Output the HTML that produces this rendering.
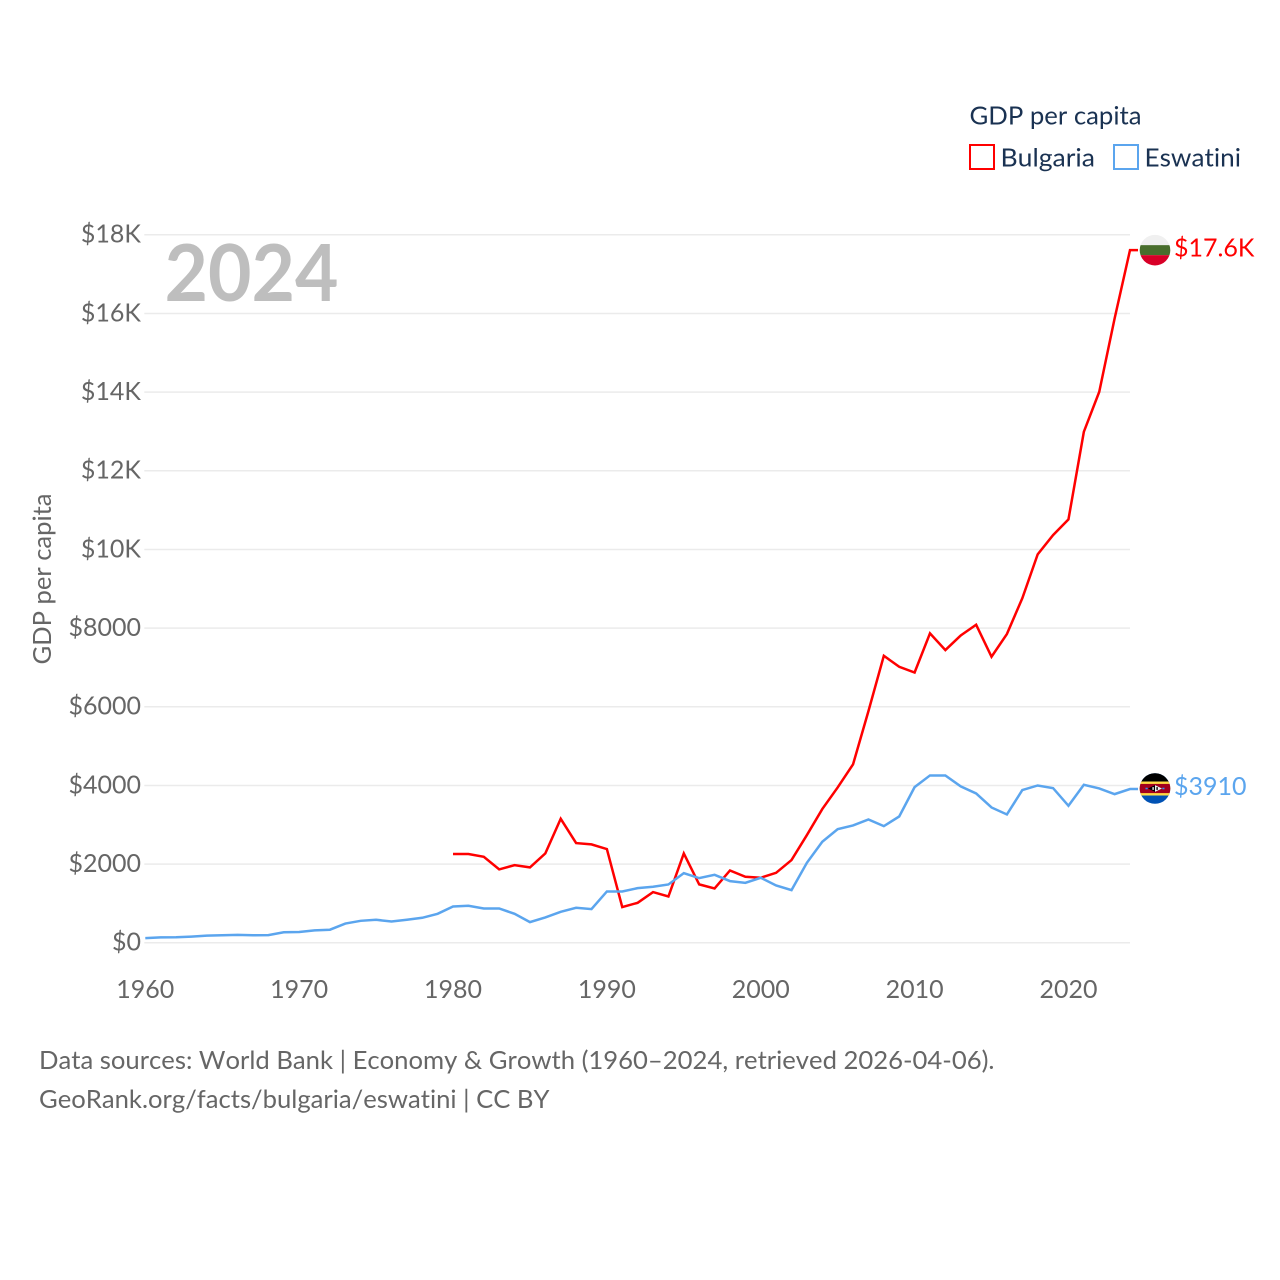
<!DOCTYPE html>
<html>
<head>
<meta charset="utf-8">
<title>GDP per capita: Bulgaria and Eswatini</title>
<style>
html,body{margin:0;padding:0;background:#fff;width:1280px;height:1280px;overflow:hidden}
svg{display:block;font-family:"Lato","Carlito","Liberation Sans",sans-serif;font-variant-ligatures:none;font-feature-settings:"liga" 0;font-kerning:none}
</style>
</head>
<body>
<svg id="chart" xmlns="http://www.w3.org/2000/svg" width="1280" height="1280" viewBox="0 0 1280 1280">
  <rect width="1280" height="1280" fill="#fff"/>
  <g id="grid"></g>
  <g id="yticks"></g>
  <g id="xticks"></g>
  <text x="164.5" y="301" font-size="79" font-weight="700" fill="#bebebe" textLength="174" lengthAdjust="spacingAndGlyphs">2024</text>
  <text transform="translate(51,664.5) rotate(-90)" font-size="25" fill="#666" textLength="171" lengthAdjust="spacingAndGlyphs">GDP per capita</text>
  <g id="series"></g>

  <g>
    <text x="969.5" y="124.5" font-size="25" fill="#1a3252" textLength="172" lengthAdjust="spacingAndGlyphs">GDP per capita</text>
    <rect x="970" y="145" width="24" height="24" fill="#fff" stroke="#ff0000" stroke-width="2"/>
    <text x="1000.5" y="166.5" font-size="25" fill="#1a3252" textLength="94.5" lengthAdjust="spacingAndGlyphs">Bulgaria</text>
    <rect x="1114" y="145" width="24" height="24" fill="#fff" stroke="#5ba5ee" stroke-width="2"/>
    <text x="1144.5" y="166.5" font-size="25" fill="#1a3252" textLength="96.5" lengthAdjust="spacingAndGlyphs">Eswatini</text>
  </g>

  <defs>
    <clipPath id="clip-bg"><circle cx="0" cy="0" r="15.3"/></clipPath>
    <clipPath id="clip-sz"><circle cx="0" cy="0" r="15.3"/></clipPath>
  </defs>
  <g id="flag-bulgaria">
    <g clip-path="url(#clip-bg)">
      <rect x="-16" y="-16" width="32" height="11" fill="#f0f0f0"/>
      <rect x="-16" y="-5" width="32" height="10" fill="#496e2d"/>
      <rect x="-16" y="5" width="32" height="11" fill="#d80027"/>
    </g>
  </g>
  <g id="flag-eswatini">
    <g clip-path="url(#clip-sz)">
      <rect x="-16" y="-16" width="32" height="32" fill="#0052b4"/>
      <rect x="-16" y="-16" width="32" height="9.5" fill="#000"/>
      <rect x="-16" y="-7" width="32" height="14" fill="#ffda44"/>
      <rect x="-16" y="-4.6" width="32" height="9.2" fill="#a2001d"/>
      <path d="M-7,0 L0,-3.4 L7,0 L0,3.4 Z" fill="#000"/>
      <path d="M0,-3.4 L7,0 L0,3.4 Z" fill="#f0f0f0"/>
      <rect x="-2.6" y="-1.4" width="1.4" height="2.8" fill="#f0f0f0"/>
      <rect x="1.4" y="-1.4" width="1.4" height="2.8" fill="#000"/>
      <rect x="-9.5" y="-0.8" width="2.2" height="1.6" fill="#338af3"/>
      <rect x="7.3" y="-0.8" width="2.2" height="1.6" fill="#338af3"/>
    </g>
  </g>
  <g id="end-labels"></g>

  <g fill="#666">
    <text x="39" y="1069" font-size="25" textLength="955.5" lengthAdjust="spacingAndGlyphs">Data sources: World Bank | Economy &amp; Growth (1960–2024, retrieved 2026-04-06).</text>
    <text x="39" y="1108" font-size="25" textLength="510.5" lengthAdjust="spacingAndGlyphs">GeoRank.org/facts/bulgaria/eswatini | CC BY</text>
  </g>
</svg>

<script>
const firstYear = 1960;
const lastYear = 2024;
const bulgariaStartYear = 1980;
const eswatiniStartYear = 1960;

const xTickYears = [1960, 1970, 1980, 1990, 2000, 2010, 2020];
const yTickValues = [0, 2000, 4000, 6000, 8000, 10000, 12000, 14000, 16000, 18000];
const yTickLabels = ["$0", "$2000", "$4000", "$6000", "$8000", "$10K", "$12K", "$14K", "$16K", "$18K"];

const bulgariaValues = [
  2256, 2256, 2187, 1866, 1975, 1917, 2273, 3153, 2535, 2502,
  2383, 908, 1017, 1289, 1177, 2271, 1485, 1381, 1839, 1678,
  1653, 1780, 2103, 2739, 3400, 3950, 4537, 5890, 7297, 7017,
  6872, 7867, 7442, 7815, 8086, 7273, 7850, 8760, 9875, 10366,
  10765, 12990, 14007, 15872, 17610
];
const eswatiniValues = [
  118, 137, 140, 158, 183, 192, 200, 192, 195, 267,
  275, 317, 333, 490, 559, 585, 542, 585, 636, 737,
  923, 941, 873, 873, 737, 526, 644, 788, 890, 856,
  1305, 1305, 1390, 1424, 1483, 1771, 1644, 1729, 1569, 1525,
  1653, 1457, 1339, 2034, 2568, 2890, 2983, 3136, 2966, 3212,
  3958, 4255, 4255, 3975, 3797, 3441, 3263, 3882, 4000, 3933,
  3483, 4017, 3924, 3780, 3910
];

const NS = "http://www.w3.org/2000/svg";
const plotLeft = 145.3, plotRight = 1130, plotBottom = 942.8, plotTop = 234.8, yMax = 18000;
const labelSize = 25;

function xScale(year) {
  return plotLeft + (year - firstYear) / (lastYear - firstYear) * (plotRight - plotLeft);
}
function yScale(value) {
  return plotBottom - value / yMax * (plotBottom - plotTop);
}
function formatValue(v) {
  return v >= 10000 ? "$" + (v / 1000).toFixed(1) + "K" : "$" + Math.round(v);
}
function make(tag, attrs, parent) {
  const el = document.createElementNS(NS, tag);
  for (const k in attrs) el.setAttribute(k, attrs[k]);
  parent.appendChild(el);
  return el;
}

const gridG = document.getElementById("grid");
const yG = document.getElementById("yticks");
const xG = document.getElementById("xticks");
const seriesG = document.getElementById("series");
const endG = document.getElementById("end-labels");

yTickValues.forEach(function (v, i) {
  const line = make("line", { x1: plotLeft - 1, x2: plotRight, y1: yScale(v), y2: yScale(v), stroke: "#ebebeb", "stroke-width": 1.5 }, gridG);
  
  
  const t = make("text", { x: 141, y: yScale(v) + 7.8, "text-anchor": "end", "font-size": labelSize, fill: "#666" }, yG);
  
  
  t.textContent = yTickLabels[i];
});

xTickYears.forEach(function (yr) {
  const t = make("text", { x: xScale(yr), y: 998, "text-anchor": "middle", "font-size": labelSize, fill: "#666" }, xG);
  
  
  t.textContent = String(yr);
});

function linePoints(values, startYear) {
  const pts = values.map(function (v, i) {
    return xScale(startYear + i).toFixed(2) + "," + yScale(v).toFixed(2);
  });
  const lastV = values[values.length - 1];
  pts.push((xScale(startYear + values.length - 1) + 8).toFixed(2) + "," + yScale(lastV).toFixed(2));
  return pts.join(" ");
}

const lineBulgaria = make("polyline", { points: linePoints(bulgariaValues, bulgariaStartYear), fill: "none", stroke: "#ff0000", "stroke-width": 2.5, "stroke-linejoin": "miter" }, seriesG);



const lineEswatini = make("polyline", { points: linePoints(eswatiniValues, eswatiniStartYear), fill: "none", stroke: "#5ba5ee", "stroke-width": 2.5, "stroke-linejoin": "miter" }, seriesG);



const bgLast = bulgariaValues[bulgariaValues.length - 1];
const szLast = eswatiniValues[eswatiniValues.length - 1];
document.getElementById("flag-bulgaria").setAttribute("transform", "translate(1155," + yScale(bgLast) + ")");
document.getElementById("flag-eswatini").setAttribute("transform", "translate(1155," + (yScale(szLast) - 0.5) + ")");

const labelBulgaria = make("text", { x: 1174, y: yScale(bgLast) + 6.3, "font-size": labelSize, fill: "#ff0000" }, endG);


labelBulgaria.textContent = formatValue(bgLast);

const labelEswatini = make("text", { x: 1174, y: yScale(szLast) + 5.8, "font-size": labelSize, fill: "#5ba5ee" }, endG);


labelEswatini.textContent = formatValue(szLast);
</script>
</body>
</html>
